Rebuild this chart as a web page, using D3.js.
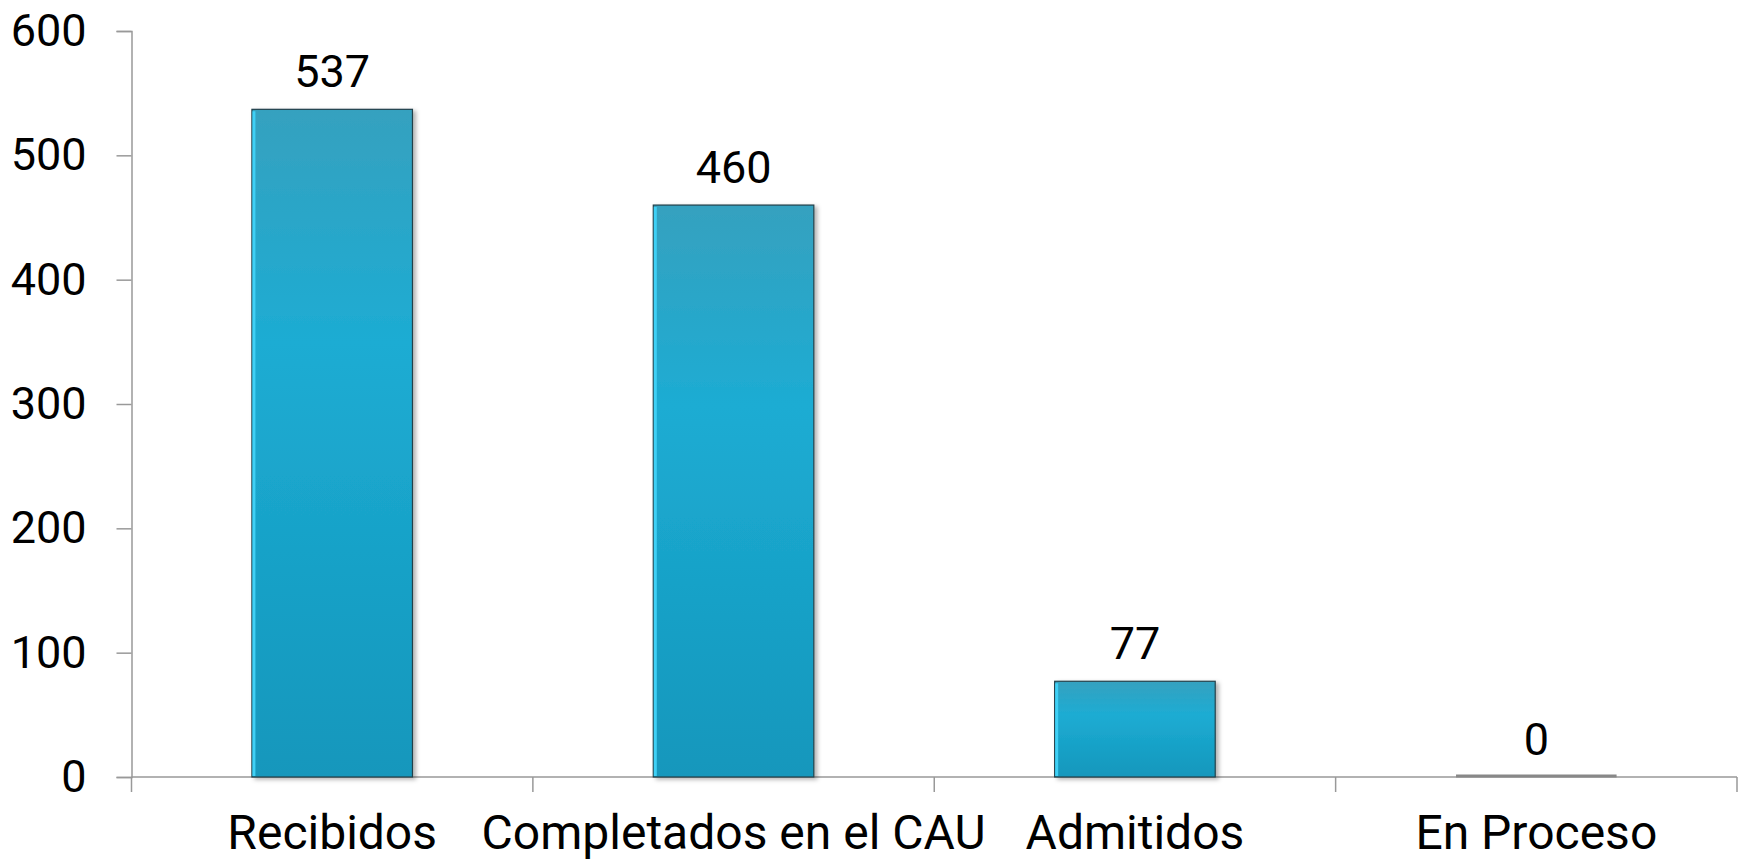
<!DOCTYPE html>
<html>
<head>
<meta charset="utf-8">
<script src="https://cdn.jsdelivr.net/npm/d3@7"></script>
<style>
  body { margin: 0; background: #fff; }
  svg { display: block; }
</style>
</head>
<body>
<svg></svg>
<script>
const categories = ["Recibidos", "Completados en el CAU", "Admitidos", "En Proceso"];
const values = [537, 460, 77, 0];
const yTicks = [0, 100, 200, 300, 400, 500, 600];

const svgWidth = 1748;
const svgHeight = 861;
const svg = d3.select("svg")
    .attr("width", svgWidth)
    .attr("height", svgHeight);

const margin = {top: 31, right: 11, bottom: 84, left: 131.5};
const width = svgWidth - margin.left - margin.right;
const height = svgHeight - margin.top - margin.bottom;

const fontFamily = "Roboto, sans-serif";
const fontSize = 45;      // numbers
const catFontSize = 48;   // category labels

const g = svg.append("g")
    .attr("transform", "translate(" + margin.left + "," + margin.top + ")");

const x = d3.scaleBand()
    .domain(categories)
    .range([0, width])
    .paddingInner(0.6)
    .paddingOuter(0.3);

const y = d3.scaleLinear()
    .domain([0, 600])
    .range([height, 0]);

// gradient for the bars
const defs = svg.append("defs");
const grad = defs.append("linearGradient")
    .attr("id", "barGrad")
    .attr("x1", 0).attr("y1", 0).attr("x2", 0).attr("y2", 1);
grad.append("stop").attr("offset", "0%").attr("stop-color", "#35a1bf");
grad.append("stop").attr("offset", "35%").attr("stop-color", "#1dacd3");
grad.append("stop").attr("offset", "100%").attr("stop-color", "#1397bc");

const shadow = defs.append("filter")
    .attr("id", "shadow")
    .attr("x", "-10%").attr("y", "-10%").attr("width", "130%").attr("height", "130%");
shadow.append("feDropShadow")
    .attr("dx", 3).attr("dy", 2).attr("stdDeviation", 2)
    .attr("flood-color", "#000").attr("flood-opacity", 0.3);

// y axis
const yAxis = g.append("g")
    .call(d3.axisLeft(y).tickValues(yTicks).tickSize(15).tickPadding(30));
yAxis.select(".domain").attr("stroke", "#999").attr("stroke-width", 1.5);
yAxis.selectAll(".tick line").attr("stroke", "#999").attr("stroke-width", 1.5);
yAxis.selectAll(".tick text")
    .attr("font-family", fontFamily)
    .attr("font-size", fontSize)
    .attr("fill", "#000");

// x axis: ticks sit between the categories
const xAxis = g.append("g")
    .attr("transform", "translate(0," + height + ")");
xAxis.append("line")
    .attr("x1", 0).attr("x2", width)
    .attr("stroke", "#999").attr("stroke-width", 1.5);
const bounds = categories.map(c => x(c) - x.step() * x.paddingOuter()).concat([width]);
xAxis.selectAll(".xtick")
    .data(bounds)
    .enter().append("line")
    .attr("x1", d => d).attr("x2", d => d)
    .attr("y1", 0).attr("y2", 15)
    .attr("stroke", "#999").attr("stroke-width", 1.5);
xAxis.selectAll(".xlabel")
    .data(categories)
    .enter().append("text")
    .attr("x", d => x(d) + x.bandwidth() / 2)
    .attr("y", 72)
    .attr("text-anchor", "middle")
    .attr("font-family", fontFamily)
    .attr("font-size", catFontSize)
    .attr("fill", "#000")
    .text(d => d);

// bars
const data = categories.map((c, i) => ({cat: c, value: values[i]}));
g.selectAll(".bar")
    .data(data.filter(d => d.value > 0))
    .enter().append("rect")
    .attr("x", d => x(d.cat))
    .attr("y", d => y(d.value))
    .attr("width", x.bandwidth())
    .attr("height", d => height - y(d.value))
    .attr("fill", "url(#barGrad)")
    .attr("stroke", "#24404a")
    .attr("stroke-width", 1.2)
    .attr("filter", "url(#shadow)");

// light edge on the left of each bar
g.selectAll(".edge")
    .data(data.filter(d => d.value > 0))
    .enter().append("line")
    .attr("x1", d => x(d.cat) + 2).attr("x2", d => x(d.cat) + 2)
    .attr("y1", d => y(d.value) + 2).attr("y2", height - 1)
    .attr("stroke", "#3fd0f5").attr("stroke-width", 3);

// zero-value bar drawn as a thin grey line
g.selectAll(".zero")
    .data(data.filter(d => d.value === 0))
    .enter().append("line")
    .attr("x1", d => x(d.cat)).attr("x2", d => x(d.cat) + x.bandwidth())
    .attr("y1", height - 1).attr("y2", height - 1)
    .attr("stroke", "#888").attr("stroke-width", 3);

// value labels
g.selectAll(".val")
    .data(data)
    .enter().append("text")
    .attr("x", d => x(d.cat) + x.bandwidth() / 2)
    .attr("y", d => y(d.value) - 22)
    .attr("text-anchor", "middle")
    .attr("font-family", fontFamily)
    .attr("font-size", fontSize)
    .attr("fill", "#000")
    .text(d => d.value);
</script>
</body>
</html>
